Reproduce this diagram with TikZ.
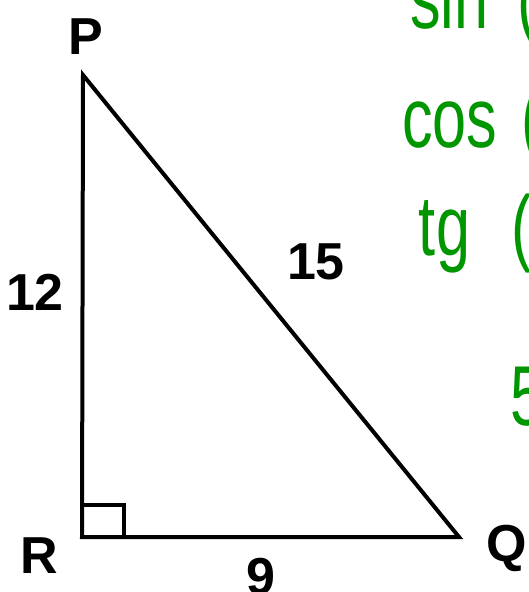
\documentclass[tikz,border=0pt]{standalone}
\usepackage{fontspec}
\setmainfont{Liberation Sans}
\definecolor{hand}{RGB}{0,150,0}
\tikzset{
  side/.style={line width=4pt, line join=miter},
  vlabel/.style={font=\fontsize{52}{52}\selectfont\bfseries, inner sep=0pt},
  handtext/.style={font=\fontsize{85}{85}\selectfont, text=hand, inner sep=0pt, xscale=0.72, anchor=base west}
}
\begin{document}
\begin{tikzpicture}[x=1pt,y=-1pt]
\useasboundingbox (0,0) rectangle (528,592);
\clip (0,0) rectangle (528,592);
\fill[white] (0,0) rectangle (528,592);
% vertices
\coordinate (P) at (83,75);
\coordinate (R) at (82,537);
\coordinate (Q) at (459,537);
\coordinate (S1) at (82,505);
\coordinate (S2) at (124,505);
\coordinate (S3) at (124,537);
\draw[side] (P) -- (R) -- (Q) -- cycle;
\draw[side] (S1) -- (S2) -- (S3);
% vertex labels
\node[vlabel] (lP) at (86,37) {P};
\node[vlabel] (lR) at (39,556) {R};
\node[vlabel, anchor=west] (lQ) at (486,548) {Q};
% side labels
\node[vlabel] (l12) at (35,292) {12};
\node[vlabel] (l15) at (316,262) {15};
\node[vlabel] (l9) at (261,577) {9};
% handwritten notes
\node[handtext] (sin) at (410,28) {sin};
\node[handtext] (sinp) at (517,28) {(};
\node[handtext] (cos) at (402,147) {cos};
\node[handtext] (cosp) at (521,147) {(};
\node[handtext] (tg) at (418,255) {t\hspace{2pt}g};
\node[handtext] (tgp) at (511,255) {(};
\node[handtext] (five) at (510,425) {5};
\end{tikzpicture}
\end{document}
